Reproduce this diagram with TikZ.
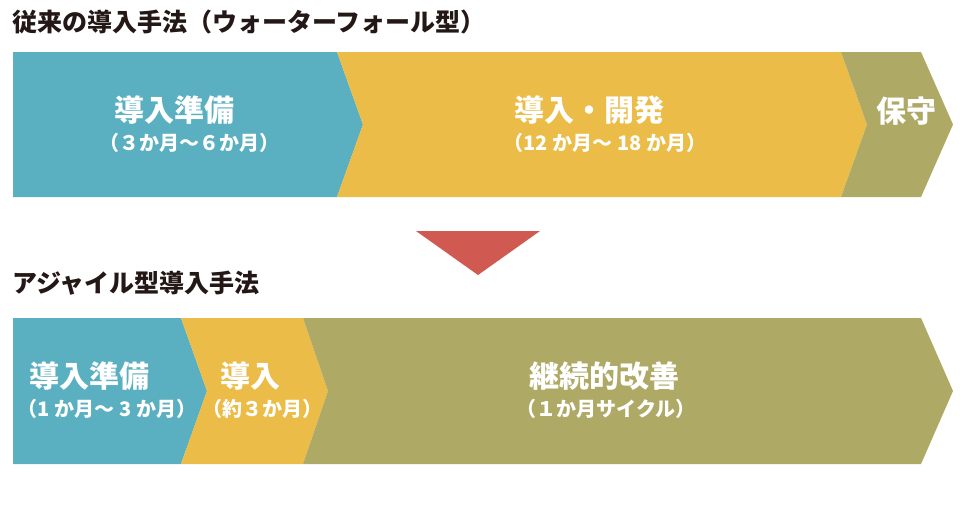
\documentclass[tikz,border=0pt]{standalone}
\usepackage{fontspec}
\setmainfont{Noto Sans CJK JP}
\definecolor{prep}{HTML}{5AB0C0}
\definecolor{dev}{HTML}{EBBC47}
\definecolor{keep}{HTML}{AFA966}
\definecolor{down}{HTML}{D05A51}
\definecolor{ink}{HTML}{231815}
\tikzset{
  heading/.style = {color=ink,font=\fontsize{25}{28}\selectfont\bfseries,anchor=west,inner sep=0pt},
  phase/.style = {color=white,font=\fontsize{30}{34}\selectfont\bfseries,inner sep=0pt},
  span/.style = {color=white,font=\fontsize{20}{23}\selectfont\bfseries,inner sep=0pt}
}

\begin{document}
\begin{tikzpicture}[x=1pt,y=-1pt]
  \useasboundingbox (0,0) rectangle (960,504);
  \node[heading] (waterfall) at (12,22) {従来の導入手法（ウォーターフォール型）};
  \fill[prep] (13,52) -- (337,52) -- (363,124.5) -- (337,197) -- (13,197) -- cycle;
  \fill[dev] (337,52) -- (841,52) -- (867,124.5) -- (841,197) -- (337,197) -- (363,124.5) -- cycle;
  \fill[keep] (841,52) -- (921,52) -- (953,124.5) -- (921,197) -- (841,197) -- (867,124.5) -- cycle;
  \node[phase] (wprep) at (174,110) {導入準備};
  \node[span] (wprept) at (189,143) {（３か月～６か月）};
  \node[phase] (wdev) at (589,110) {導入・開発};
  \node[span] (wdevt) at (605,143) {（12 か月～ 18 か月）};
  \node[phase] (wkeep) at (906,111) {保守};
  \fill[down] (416,231) -- (540,231) -- (478,275) -- cycle;
  \node[heading] (agile) at (12,283) {アジャイル型導入手法};
  \fill[prep] (13,318) -- (181,318) -- (207,391) -- (181,464) -- (13,464) -- cycle;
  \fill[dev] (181,318) -- (303,318) -- (328,391) -- (303,464) -- (181,464) -- (207,391) -- cycle;
  \fill[keep] (303,318) -- (921,318) -- (953,391) -- (921,464) -- (303,464) -- (328,391) -- cycle;
  \node[phase] (aprep) at (89,376) {導入準備};
  \node[span] (aprept) at (107,409) {（1 か月～ 3 か月）};
  \node[phase] (adev) at (250,376) {導入};
  \node[span] (adevt) at (262,409) {（約３か月）};
  \node[phase] (akeep) at (604,376) {継続的改善};
  \node[span] (akeept) at (606,409) {（１か月サイクル）};
\end{tikzpicture}
\end{document}
